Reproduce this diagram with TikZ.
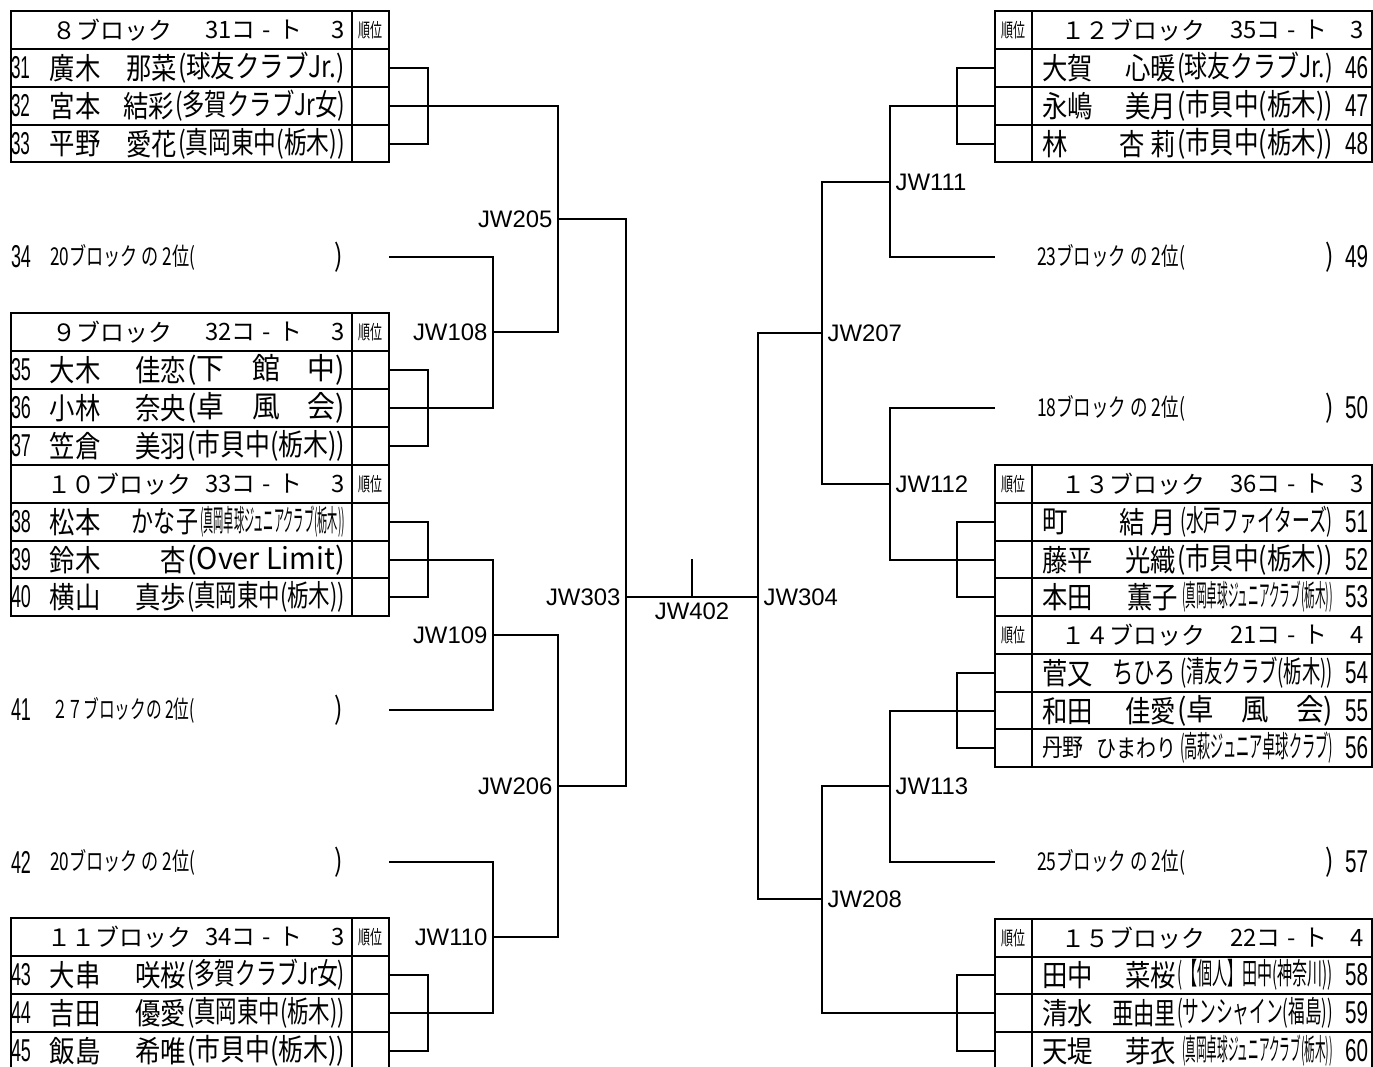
\documentclass[tikz,border=0pt]{standalone}
\usepackage{fontspec}
\usepackage{graphicx}
\setmainfont{Liberation Sans}
\newfontfamily\jpfont[FakeStretch=0.85]{Noto Sans CJK JP}
\newfontfamily\jphead{Noto Sans CJK JP}
\newlength{\px}
\setlength{\px}{0.02cm}
\newcommand{\fitw}[2]{\resizebox{#1\px}{\height}{#2}}
\newcommand{\court}[1]{#1コ\hspace{0.3em}-\hspace{0.3em}ト}

\begin{document}
\begin{tikzpicture}[x=0.02cm, y=-0.02cm,
  tbl/.style={line width=0.9pt},
  bk/.style={line width=0.9pt},
  lbl/.style={inner sep=0pt, outer sep=0pt},
  nm/.style={lbl, font=\jpfont\fontsize{17}{17}\selectfont},
  sm/.style={lbl, font=\jpfont\fontsize{14}{14}\selectfont},
  hd/.style={lbl, font=\jphead\fontsize{13.6}{14}\selectfont},
  rk/.style={lbl, font=\jphead\fontsize{11}{11}\selectfont},
  no/.style={lbl, font=\fontsize{18}{18}\selectfont},
  jw/.style={inner sep=3pt, font=\fontsize{13.6}{14}\selectfont}]
  \useasboundingbox (0,0) rectangle (1373,1066);
  \clip (0,0) rectangle (1373,1066);

  % tables
  \draw[tbl] (11,11) rectangle (389,162) (352,11) -- (352,162);
  \draw[tbl] (11,49) -- (389,49) (11,87) -- (389,87) (11,125) -- (389,125);
  \draw[tbl] (11,313) rectangle (389,616) (352,313) -- (352,616);
  \draw[tbl] (11,351) -- (389,351) (11,389) -- (389,389) (11,427) -- (389,427) (11,465) -- (389,465);
  \draw[tbl] (11,503) -- (389,503) (11,541) -- (389,541) (11,578) -- (389,578);
  \draw[tbl] (11,918) rectangle (389,1070) (352,918) -- (352,1070);
  \draw[tbl] (11,956) -- (389,956) (11,994) -- (389,994) (11,1032) -- (389,1032);
  \draw[tbl] (995,11) rectangle (1372,162) (1032,11) -- (1032,162);
  \draw[tbl] (995,49) -- (1372,49) (995,87) -- (1372,87) (995,125) -- (1372,125);
  \draw[tbl] (995,465) rectangle (1372,767) (1032,465) -- (1032,767);
  \draw[tbl] (995,503) -- (1372,503) (995,541) -- (1372,541) (995,578) -- (1372,578) (995,616) -- (1372,616);
  \draw[tbl] (995,654) -- (1372,654) (995,692) -- (1372,692) (995,729) -- (1372,729);
  \draw[tbl] (995,919) rectangle (1372,1070) (1032,919) -- (1032,1070);
  \draw[tbl] (995,957) -- (1372,957) (995,994) -- (1372,994) (995,1032) -- (1372,1032);

  % headers
  \node[rk] (r8) at (370,30) {\fitw{24}{順位}};
  \node[hd, anchor=east] (h8a) at (172,30) {８ブロック};
  \node[hd, anchor=east] (h8b) at (302,30) {\court{31}};
  \node[hd, anchor=east] (h8c) at (345,30) {3};
  \node[rk] (r9) at (370,332) {\fitw{24}{順位}};
  \node[hd, anchor=east] (h9a) at (172,332) {９ブロック};
  \node[hd, anchor=east] (h9b) at (302,332) {\court{32}};
  \node[hd, anchor=east] (h9c) at (345,332) {3};
  \node[rk] (r10) at (370,484) {\fitw{24}{順位}};
  \node[hd, anchor=east] (h10a) at (191,484) {１０ブロック};
  \node[hd, anchor=east] (h10b) at (302,484) {\court{33}};
  \node[hd, anchor=east] (h10c) at (345,484) {3};
  \node[rk] (r11) at (370,937) {\fitw{24}{順位}};
  \node[hd, anchor=east] (h11a) at (191,937) {１１ブロック};
  \node[hd, anchor=east] (h11b) at (302,937) {\court{34}};
  \node[hd, anchor=east] (h11c) at (345,937) {3};
  \node[rk] (r12) at (1013,30) {\fitw{24}{順位}};
  \node[hd, anchor=east] (h12a) at (1205,30) {１２ブロック};
  \node[hd, anchor=east] (h12b) at (1327,30) {\court{35}};
  \node[hd, anchor=east] (h12c) at (1364,30) {3};
  \node[rk] (r13) at (1013,484) {\fitw{24}{順位}};
  \node[hd, anchor=east] (h13a) at (1205,484) {１３ブロック};
  \node[hd, anchor=east] (h13b) at (1327,484) {\court{36}};
  \node[hd, anchor=east] (h13c) at (1364,484) {3};
  \node[rk] (r14) at (1013,635) {\fitw{24}{順位}};
  \node[hd, anchor=east] (h14a) at (1205,635) {１４ブロック};
  \node[hd, anchor=east] (h14b) at (1327,635) {\court{21}};
  \node[hd, anchor=east] (h14c) at (1364,635) {4};
  \node[rk] (r15) at (1013,938) {\fitw{24}{順位}};
  \node[hd, anchor=east] (h15a) at (1205,938) {１５ブロック};
  \node[hd, anchor=east] (h15b) at (1327,938) {\court{22}};
  \node[hd, anchor=east] (h15c) at (1364,938) {4};

  % left players
  \node[no, anchor=west] (n31) at (11,68) {\fitw{19}{31}};
  \node[nm, anchor=west] (s31) at (50,68) {廣木};
  \node[nm, anchor=east] (g31) at (177,68) {那菜};
  \node[nm, anchor=west] (c31) at (178,68) {\fitw{167}{(球友クラブJr.)}};
  \node[no, anchor=west] (n32) at (11,106) {\fitw{19}{32}};
  \node[nm, anchor=west] (s32) at (50,106) {宮本};
  \node[nm, anchor=east] (g32) at (174,106) {結彩};
  \node[nm, anchor=west] (c32) at (175,106) {\fitw{170}{(多賀クラブJr女)}};
  \node[no, anchor=west] (n33) at (11,144) {\fitw{19}{33}};
  \node[nm, anchor=west] (s33) at (50,144) {平野};
  \node[nm, anchor=east] (g33) at (177,144) {愛花};
  \node[nm, anchor=west] (c33) at (178,144) {\fitw{167}{(真岡東中(栃木))}};
  \node[no, anchor=west] (n34) at (11,257) {\fitw{20}{34}};
  \node[sm, anchor=west] (e34) at (50,257) {\fitw{145}{20ブロック の 2位(}};
  \node[nm, anchor=east] (f34) at (343,257) {)};
  \node[no, anchor=west] (n35) at (11,370) {\fitw{20}{35}};
  \node[nm, anchor=west] (s35) at (50,370) {大木};
  \node[nm, anchor=east] (g35) at (186,370) {佳恋};
  \node[nm, anchor=west] (c35) at (187,370) {\fitw{158}{(下　館　中)}};
  \node[no, anchor=west] (n36) at (11,408) {\fitw{20}{36}};
  \node[nm, anchor=west] (s36) at (50,408) {小林};
  \node[nm, anchor=east] (g36) at (186,408) {奈央};
  \node[nm, anchor=west] (c36) at (187,408) {\fitw{158}{(卓　風　会)}};
  \node[no, anchor=west] (n37) at (11,446) {\fitw{20}{37}};
  \node[nm, anchor=west] (s37) at (50,446) {笠倉};
  \node[nm, anchor=east] (g37) at (186,446) {美羽};
  \node[nm, anchor=west] (c37) at (187,446) {\fitw{158}{(市貝中(栃木))}};
  \node[no, anchor=west] (n38) at (11,522) {\fitw{20}{38}};
  \node[nm, anchor=west] (s38) at (50,522) {松本};
  \node[nm, anchor=east] (g38) at (198,522) {\fitw{66}{かな子}};
  \node[nm, anchor=west] (c38) at (200,522) {\fitw{145}{(真岡卓球ジュニアクラブ(栃木))}};
  \node[no, anchor=west] (n39) at (11,560) {\fitw{20}{39}};
  \node[nm, anchor=west] (s39) at (50,560) {鈴木};
  \node[nm, anchor=east] (g39) at (186,560) {杏};
  \node[nm, anchor=west] (c39) at (187,560) {\fitw{158}{(Over Limit)}};
  \node[no, anchor=west] (n40) at (11,597) {\fitw{20}{40}};
  \node[nm, anchor=west] (s40) at (50,597) {横山};
  \node[nm, anchor=east] (g40) at (186,597) {真歩};
  \node[nm, anchor=west] (c40) at (187,597) {\fitw{158}{(真岡東中(栃木))}};
  \node[no, anchor=west] (n41) at (11,710) {\fitw{20}{41}};
  \node[sm, anchor=west] (e41) at (52,710) {\fitw{143}{２７ブロックの 2位(}};
  \node[nm, anchor=east] (f41) at (343,710) {)};
  \node[no, anchor=west] (n42) at (11,862) {\fitw{20}{42}};
  \node[sm, anchor=west] (e42) at (50,862) {\fitw{145}{20ブロック の 2位(}};
  \node[nm, anchor=east] (f42) at (343,862) {)};
  \node[no, anchor=west] (n43) at (11,975) {\fitw{20}{43}};
  \node[nm, anchor=west] (s43) at (50,975) {大串};
  \node[nm, anchor=east] (g43) at (186,975) {咲桜};
  \node[nm, anchor=west] (c43) at (187,975) {\fitw{158}{(多賀クラブJr女)}};
  \node[no, anchor=west] (n44) at (11,1013) {\fitw{20}{44}};
  \node[nm, anchor=west] (s44) at (50,1013) {吉田};
  \node[nm, anchor=east] (g44) at (186,1013) {優愛};
  \node[nm, anchor=west] (c44) at (187,1013) {\fitw{158}{(真岡東中(栃木))}};
  \node[no, anchor=west] (n45) at (11,1051) {\fitw{20}{45}};
  \node[nm, anchor=west] (s45) at (50,1051) {飯島};
  \node[nm, anchor=east] (g45) at (186,1051) {希唯};
  \node[nm, anchor=west] (c45) at (187,1051) {\fitw{158}{(市貝中(栃木))}};

  % right players
  \node[nm, anchor=west] (s46) at (1042,68) {大賀};
  \node[nm, anchor=east] (g46) at (1176,68) {心暖};
  \node[nm, anchor=west] (c46) at (1177,68) {\fitw{156}{(球友クラブJr.)}};
  \node[no, anchor=west] (n46) at (1345,68) {\fitw{23}{46}};
  \node[nm, anchor=west] (s47) at (1042,106) {永嶋};
  \node[nm, anchor=east] (g47) at (1176,106) {美月};
  \node[nm, anchor=west] (c47) at (1177,106) {\fitw{156}{(市貝中(栃木))}};
  \node[no, anchor=west] (n47) at (1345,106) {\fitw{23}{47}};
  \node[nm, anchor=west] (s48) at (1042,144) {林};
  \node[nm, anchor=east] (g48) at (1176,144) {杏 莉};
  \node[nm, anchor=west] (c48) at (1177,144) {\fitw{156}{(市貝中(栃木))}};
  \node[no, anchor=west] (n48) at (1345,144) {\fitw{23}{48}};
  \node[sm, anchor=west] (e49) at (1037,257) {\fitw{148}{23ブロック の 2位(}};
  \node[nm, anchor=east] (f49) at (1334,257) {)};
  \node[no, anchor=west] (n49) at (1345,257) {\fitw{23}{49}};
  \node[sm, anchor=west] (e50) at (1037,408) {\fitw{148}{18ブロック の 2位(}};
  \node[nm, anchor=east] (f50) at (1334,408) {)};
  \node[no, anchor=west] (n50) at (1345,408) {\fitw{23}{50}};
  \node[nm, anchor=west] (s51) at (1042,522) {町};
  \node[nm, anchor=east] (g51) at (1176,522) {結 月};
  \node[nm, anchor=west] (c51) at (1180,522) {\fitw{153}{(水戸ファイターズ)}};
  \node[no, anchor=west] (n51) at (1345,522) {\fitw{23}{51}};
  \node[nm, anchor=west] (s52) at (1042,560) {藤平};
  \node[nm, anchor=east] (g52) at (1176,560) {光織};
  \node[nm, anchor=west] (c52) at (1177,560) {\fitw{156}{(市貝中(栃木))}};
  \node[no, anchor=west] (n52) at (1345,560) {\fitw{23}{52}};
  \node[nm, anchor=west] (s53) at (1042,597) {本田};
  \node[nm, anchor=east] (g53) at (1178,597) {薫子};
  \node[nm, anchor=west] (c53) at (1182,597) {\fitw{151}{(真岡卓球ジュニアクラブ(栃木))}};
  \node[no, anchor=west] (n53) at (1345,597) {\fitw{23}{53}};
  \node[nm, anchor=west] (s54) at (1042,673) {菅又};
  \node[nm, anchor=east] (g54) at (1176,673) {\fitw{64}{ちひろ}};
  \node[nm, anchor=west] (c54) at (1180,673) {\fitw{153}{(清友クラブ(栃木))}};
  \node[no, anchor=west] (n54) at (1345,673) {\fitw{23}{54}};
  \node[nm, anchor=west] (s55) at (1042,711) {和田};
  \node[nm, anchor=east] (g55) at (1176,711) {佳愛};
  \node[nm, anchor=west] (c55) at (1177,711) {\fitw{156}{(卓　風　会)}};
  \node[no, anchor=west] (n55) at (1345,711) {\fitw{23}{55}};
  \node[sm, anchor=west] (s56) at (1042,748) {丹野};
  \node[sm, anchor=east] (g56) at (1176,748) {\fitw{80}{ひまわり}};
  \node[nm, anchor=west] (c56) at (1180,748) {\fitw{153}{(高萩ジュニア卓球クラブ)}};
  \node[no, anchor=west] (n56) at (1345,748) {\fitw{23}{56}};
  \node[sm, anchor=west] (e57) at (1037,862) {\fitw{148}{25ブロック の 2位(}};
  \node[nm, anchor=east] (f57) at (1334,862) {)};
  \node[no, anchor=west] (n57) at (1345,862) {\fitw{23}{57}};
  \node[nm, anchor=west] (s58) at (1042,975) {田中};
  \node[nm, anchor=east] (g58) at (1176,975) {菜桜};
  \node[nm, anchor=west] (c58) at (1177,975) {\fitw{156}{(【個人】田中(神奈川))}};
  \node[no, anchor=west] (n58) at (1345,975) {\fitw{23}{58}};
  \node[nm, anchor=west] (s59) at (1042,1013) {清水};
  \node[nm, anchor=east] (g59) at (1176,1013) {\fitw{64}{亜由里}};
  \node[nm, anchor=west] (c59) at (1177,1013) {\fitw{156}{(サンシャイン(福島))}};
  \node[no, anchor=west] (n59) at (1345,1013) {\fitw{23}{59}};
  \node[nm, anchor=west] (s60) at (1042,1051) {天堤};
  \node[nm, anchor=east] (g60) at (1176,1051) {芽衣};
  \node[nm, anchor=west] (c60) at (1182,1051) {\fitw{151}{(真岡卓球ジュニアクラブ(栃木))}};
  \node[no, anchor=west] (n60) at (1345,1051) {\fitw{23}{60}};

  % bracket points
  \coordinate (p31) at (389,68);
  \coordinate (p32) at (389,106);
  \coordinate (p33) at (389,144);
  \coordinate (p34) at (389,257);
  \coordinate (p35) at (389,370);
  \coordinate (p36) at (389,408);
  \coordinate (p37) at (389,446);
  \coordinate (p38) at (389,522);
  \coordinate (p39) at (389,560);
  \coordinate (p40) at (389,597);
  \coordinate (p41) at (389,710);
  \coordinate (p42) at (389,862);
  \coordinate (p43) at (389,975);
  \coordinate (p44) at (389,1013);
  \coordinate (p45) at (389,1051);
  \coordinate (p46) at (995,68);
  \coordinate (p47) at (995,106);
  \coordinate (p48) at (995,144);
  \coordinate (p49) at (995,257);
  \coordinate (p50) at (995,408);
  \coordinate (p51) at (995,522);
  \coordinate (p52) at (995,560);
  \coordinate (p53) at (995,597);
  \coordinate (p54) at (995,673);
  \coordinate (p55) at (995,711);
  \coordinate (p56) at (995,748);
  \coordinate (p57) at (995,862);
  \coordinate (p58) at (995,975);
  \coordinate (p59) at (995,1013);
  \coordinate (p60) at (995,1051);
  \coordinate (k8) at (428,106);
  \coordinate (k9) at (428,408);
  \coordinate (k10) at (428,560);
  \coordinate (k11) at (428,1013);
  \coordinate (k12) at (957,106);
  \coordinate (k13) at (957,560);
  \coordinate (k14) at (957,711);
  \coordinate (k15) at (957,1013);
  \coordinate (m205) at (558,219);
  \coordinate (m108) at (493,332);
  \coordinate (m109) at (493,635);
  \coordinate (m206) at (558,786);
  \coordinate (m110) at (493,937);
  \coordinate (m303) at (626,597);
  \coordinate (m402) at (692,597);
  \coordinate (t402) at (692,559);
  \coordinate (m304) at (758,597);
  \coordinate (m111) at (890,182);
  \coordinate (m207) at (822,333);
  \coordinate (m112) at (890,484);
  \coordinate (m113) at (890,786);
  \coordinate (m208) at (822,899);

  % match labels
  \node[jw, anchor=east] (jw205) at (m205) {JW205};
  \node[jw, anchor=east] (jw108) at (m108) {JW108};
  \node[jw, anchor=east] (jw109) at (m109) {JW109};
  \node[jw, anchor=east] (jw206) at (m206) {JW206};
  \node[jw, anchor=east] (jw110) at (m110) {JW110};
  \node[jw, anchor=east] (jw303) at (m303) {JW303};
  \node[jw, anchor=north] (jw402) at (m402) {JW402};
  \node[jw, anchor=west] (jw304) at (m304) {JW304};
  \node[jw, anchor=west] (jw111) at (m111) {JW111};
  \node[jw, anchor=west] (jw207) at (m207) {JW207};
  \node[jw, anchor=west] (jw112) at (m112) {JW112};
  \node[jw, anchor=west] (jw113) at (m113) {JW113};
  \node[jw, anchor=west] (jw208) at (m208) {JW208};

  % brackets
  \draw[bk] (p31) -| (k8) |- (p33);
  \draw[bk] (p32) -| (m205) |- (m108);
  \draw[bk] (p34) -| (m108) |- (p36);
  \draw[bk] (p35) -| (k9) |- (p37);
  \draw[bk] (m205) -| (m303) |- (m206);
  \draw[bk] (p38) -| (k10) |- (p40);
  \draw[bk] (p39) -| (m109) |- (p41);
  \draw[bk] (m109) -| (m206) |- (m110);
  \draw[bk] (p42) -| (m110) |- (p44);
  \draw[bk] (p43) -| (k11) |- (p45);
  \draw[bk] (m303) -- (m304);
  \draw[bk] (m402) -- (t402);
  \draw[bk] (p46) -| (k12) |- (p48);
  \draw[bk] (p47) -| (m111) |- (p49);
  \draw[bk] (m111) -| (m207) |- (m112);
  \draw[bk] (p50) -| (m112) |- (p52);
  \draw[bk] (p51) -| (k13) |- (p53);
  \draw[bk] (p54) -| (k14) |- (p56);
  \draw[bk] (p55) -| (m113) |- (p57);
  \draw[bk] (m113) -| (m208) |- (p59);
  \draw[bk] (p58) -| (k15) |- (p60);
  \draw[bk] (m207) -| (m304) |- (m208);
\end{tikzpicture}
\end{document}
